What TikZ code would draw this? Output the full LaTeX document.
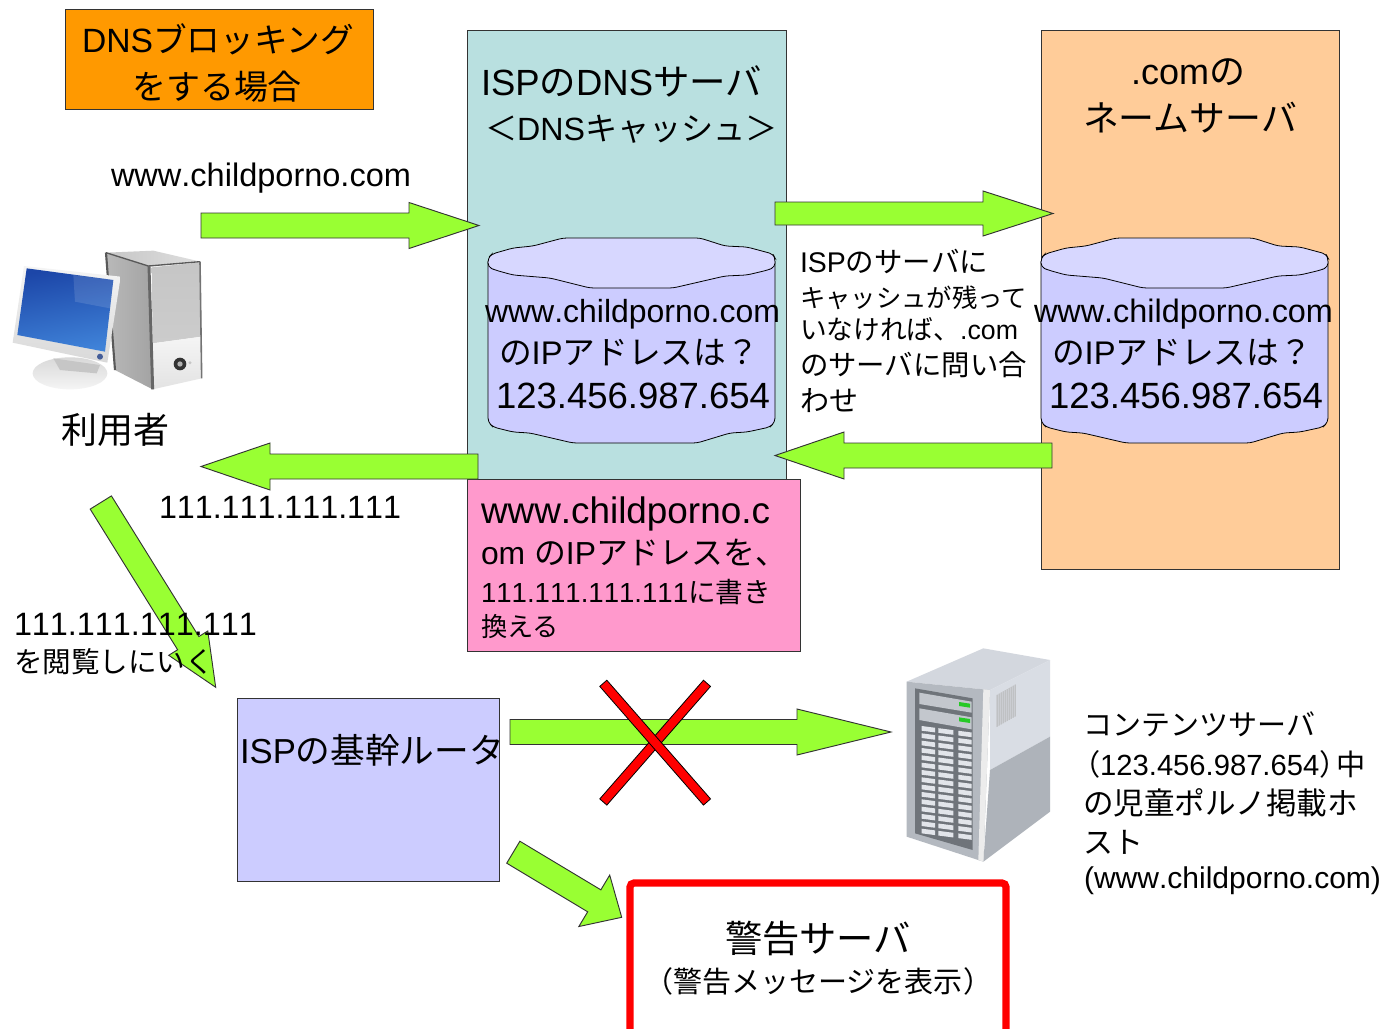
\documentclass[tikz,border=0pt]{standalone}
\usepackage{graphicx}
\usepackage{fontspec}
\setmainfont[Kerning=Off]{Liberation Sans}
\newfontfamily\cjk{Noto Sans CJK JP}
\usetikzlibrary{calc}
\definecolor{arrowgreen}{HTML}{99FF33}
\definecolor{boxorange}{HTML}{FF9900}
\definecolor{boxteal}{HTML}{B9E0E0}
\definecolor{boxpeach}{HTML}{FFCC99}
\definecolor{boxpink}{HTML}{FF99CC}
\definecolor{boxlav}{HTML}{CCCCFF}
\definecolor{toplav}{HTML}{D7D7FF}
\definecolor{edge}{HTML}{333333}
\definecolor{warnred}{HTML}{FF0000}
\definecolor{srvtop}{HTML}{D3D7DE}
\definecolor{srvside}{HTML}{D9DDE4}
\definecolor{srvlow}{HTML}{AEB3BA}
\definecolor{srvfront}{HTML}{B4B9C0}
\definecolor{srvrack}{HTML}{6F747A}
\definecolor{srvcell}{HTML}{E2E5EA}
\definecolor{scrA}{HTML}{1C46A8}
\definecolor{scrB}{HTML}{3F82D8}
\newcommand{\Jp}[1]{{\cjk #1}}
% text line: name, x, baseline y, width in px, content
\newcommand{\tline}[5]{\node[lbl] (#1) at (#2,#3) {\resizebox{#4\pxu}{!}{#5}};}
\newlength{\pxu}\setlength{\pxu}{0.75pt}
\newcommand{\boxn}[6]{%
  \pgfmathsetlengthmacro{\bw}{(#4-#2)*0.75pt}\pgfmathsetlengthmacro{\bh}{(#5-#3)*0.75pt}%
  \node[panel,fill=#6,minimum width=\bw,minimum height=\bh] (#1) at (#2,#3) {};}
% block arrow from coordinate a to tip b: shaft half, head length, head half (px)
\newcommand{\barrow}[5]{%
  \coordinate (neck) at ($(#2)!#4*0.75pt!(#1)$);
  \draw[blockarrow]
    ($(#1)!#3*0.75pt!90:(#2)$) -- ($(neck)!#3*0.75pt!90:(#2)$) -- ($(neck)!#5*0.75pt!90:(#2)$) -- (#2)
    -- ($(neck)!#5*0.75pt!-90:(#2)$) -- ($(neck)!#3*0.75pt!-90:(#2)$) -- ($(#1)!#3*0.75pt!-90:(#2)$) -- cycle;}
\newcommand{\xbar}[2]{%
  \draw[crossbar]
    ($(#1)!4.7*0.75pt!90:(#2)$) -- ($(#2)!4.7*0.75pt!-90:(#1)$) -- ($(#2)!4.7*0.75pt!90:(#1)$) -- ($(#1)!4.7*0.75pt!-90:(#2)$) -- cycle;}
\newcommand{\cyl}[1]{%
  \begin{scope}[shift={(#1,0)}]
    \draw[cylline,fill=boxlav,rounded corners=3pt] (488,258) -- (488,422) -- (493,427) -- (513,432) -- (530,433) -- (573,443) -- (697,443) -- (730,433) -- (747,432) -- (770,427) -- (775,422) -- (775,258) -- cycle;
    \draw[cylline,fill=toplav,rounded corners=3pt] (488,267) -- (488,258) -- (492,254) -- (513,248) -- (533,246) -- (563,238) -- (700,238) -- (725,246) -- (747,247) -- (773,254) -- (775,258) -- (775,267) -- (768,270) -- (747,275) -- (725,276) -- (673,288) -- (590,288) -- (550,278) -- (513,275) -- (495,270) -- cycle;
  \end{scope}}
\tikzset{
  lbl/.style={anchor=base west,inner sep=0pt,outer sep=0pt,text=black},
  panel/.style={draw=edge,line width=0.6pt,anchor=north west,inner sep=0pt,outer sep=0pt},
  blockarrow/.style={draw=edge,line width=0.7pt,fill=arrowgreen,line join=miter},
  crossbar/.style={draw=black,line width=0.6pt,fill=warnred},
  cylline/.style={draw=black,line width=0.6pt},
  warnframe/.style={draw=warnred,line width=5.4pt,fill=white,rounded corners=3pt},
}
\begin{document}
\begin{tikzpicture}[x=0.75pt,y=-0.75pt]
\useasboundingbox (0,0) rectangle (1381,1028);
\fill[white] (0,0) rectangle (1381,1028);
% panels
\boxn{title}{65}{9}{373}{109}{boxorange}
\boxn{ispdns}{467}{30}{786}{480}{boxteal}
\boxn{comns}{1041}{30}{1339}{569}{boxpeach}
\boxn{rewrite}{467}{479}{800}{651}{boxpink}
\boxn{router}{237}{698}{499}{881}{boxlav}
\draw[warnframe] (630,1036) -- (630,883) -- (1006,883) -- (1006,1036);
\cyl{0}
\cyl{553}
% user PC
\begin{scope}[shift={(0,230)},x=0.25pt,y=-0.25pt]
  \shade[top color=gray!30,bottom color=gray!8] (210,430) ellipse (112 and 48);
  \fill[gray!45] (160,385) -- (300,405) -- (290,430) -- (180,420) -- cycle;
  \shade[left color=gray!55,right color=gray!72] (318,68) -- (445,108) -- (458,478) -- (345,420) -- cycle;
  \shade[left color=gray!45,right color=gray!25] (318,68) -- (460,62) -- (602,95) -- (450,110) -- cycle;
  \shade[top color=gray!45,middle color=gray!10,bottom color=gray!40] (455,112) -- (600,97) -- (605,320) -- (458,340) -- cycle;
  \shade[top color=gray!8,bottom color=gray!22] (458,340) -- (605,320) -- (605,445) -- (458,478) -- cycle;
  \draw[gray!70!black,line width=1pt] (318,68) -- (445,108) -- (600,95);
  \draw[black!65,line width=1.6pt] (318,68) -- (345,420);
  \draw[black!60,line width=2.2pt] (447,108) -- (458,478);
  \draw[black!55,line width=1.2pt] (600,95) -- (605,445);
  \fill[black!80] (540,402) circle (19);
  \fill[gray!60] (540,402) circle (8);
  \fill[gray!45] (570,398) circle (5);
  \shade[top color=gray!8,bottom color=gray!30] (72,108) -- (362,140) -- (322,398) -- (38,338) -- cycle;
  \shade[left color=scrA,right color=scrB,shading angle=10] (80,115) -- (340,150) -- (315,365) -- (52,315) -- cycle;
  \fill[white,opacity=.12] (220,135) -- (340,150) -- (330,235) -- (225,215) -- cycle;
  \fill[scrA!60!gray] (300,380) circle (9);
\end{scope}
% content server
\begin{scope}[shift={(890,640)},x=0.25pt,y=-0.25pt]
  \fill[srvtop] (50,125) -- (280,25) -- (480,60) -- (300,150) -- cycle;
  \fill[srvside] (300,150) -- (480,60) -- (480,290) -- (300,390) -- cycle;
  \fill[srvlow] (300,390) -- (480,290) -- (480,515) -- (280,665) -- cycle;
  \fill[srvfront] (50,125) -- (300,150) -- (280,665) -- (50,590) -- cycle;
  \fill[gray!15] (280,148) -- (300,150) -- (280,665) -- (265,660) -- cycle;
  \fill[srvrack] (75,145) -- (248,175) -- (248,630) -- (75,580) -- cycle;
  \fill[srvfront!80!white] (88,158) -- (245,185) -- (245,218) -- (88,192) -- cycle;
  \fill[srvfront!80!white] (88,205) -- (245,232) -- (245,268) -- (88,240) -- cycle;
  \fill[green!75!black!85] (207,186) -- (240,191) -- (240,203) -- (207,198) -- cycle;
  \fill[green!75!black!85] (207,232) -- (240,237) -- (240,249) -- (207,244) -- cycle;
  \foreach \r in {0,...,14}{
    \foreach \cx/\cw in {95/40,145/45,205/40}{
      \pgfmathsetmacro{\cy}{258+\r*22+(\cx-95)*0.13}
      \fill[srvcell] (\cx,\cy) -- ++(\cw,{\cw*0.13}) -- ++(0,14) -- ++(-\cw,{-\cw*0.13}) -- cycle;
    }
  }
  \foreach \r in {0,...,9}{
    \fill[gray!60] ({320+\r*6},{165-\r*3.4}) -- ++(3,-1.5) -- ++(0,96) -- ++(-3,1.5) -- cycle;
  }
\end{scope}
% arrow end points
\coordinate (a1s) at (201,225.5); \coordinate (a1e) at (479,225.5);
\coordinate (a2s) at (775,213.5); \coordinate (a2e) at (1053,213.5);
\coordinate (a3s) at (1052,455.5); \coordinate (a3e) at (775,455.5);
\coordinate (a4s) at (478,466.5); \coordinate (a4e) at (201,466.5);
\coordinate (a5s) at (100.8,502.5); \coordinate (a5e) at (215.7,687.3);
\coordinate (a6s) at (510,732); \coordinate (a6e) at (891,732);
\coordinate (a7s) at (513.3,852.2); \coordinate (a7e) at (621.7,917.3);
\barrow{a1s}{a1e}{12.5}{70}{23}
\barrow{a2s}{a2e}{11.5}{70}{22.5}
\barrow{a3s}{a3e}{12.5}{69}{23.5}
\barrow{a4s}{a4e}{12.5}{69}{23.5}
\barrow{a5s}{a5e}{12.5}{52}{23}
\barrow{a6s}{a6e}{12.5}{94}{23}
\barrow{a7s}{a7e}{12.8}{32}{30}
\coordinate (x1a) at (603.3,683.3); \coordinate (x1b) at (707,802);
\coordinate (x2a) at (707,683.3); \coordinate (x2b) at (603.3,802);
\xbar{x2a}{x2b}
\xbar{x1a}{x1b}
% texts
\tline{t1}{82}{52}{272}{DNS\Jp{ブロッキング}}
\tline{t2}{132}{99}{170}{\Jp{をする場合}}
\tline{t3}{111}{186}{300}{www.childporno.com}
\tline{t4}{481}{95}{281}{ISP\Jp{の}DNS\Jp{サーバ}}
\tline{t5}{485}{140}{293}{\Jp{＜}DNS\Jp{キャッシュ＞}}
\tline{t6}{1131}{84}{114}{.com\Jp{の}}
\tline{t7}{1083}{131}{214}{\Jp{ネームサーバ}}
\tline{c1a}{485}{322}{295}{www.childporno.com}
\tline{c1b}{499}{364}{260}{\Jp{の}IP\Jp{アドレスは？}}
\tline{c1c}{496}{408}{274}{123.456.987.654}
\tline{c2a}{1034}{322}{299}{www.childporno.com}
\tline{c2b}{1052}{364}{260}{\Jp{の}IP\Jp{アドレスは？}}
\tline{c2c}{1049}{408}{274}{123.456.987.654}
\tline{m1}{800}{272}{188}{ISP\Jp{のサーバに}}
\tline{m2}{800}{307}{227}{\Jp{キャッシュが残って}}
\tline{m3}{800}{339}{218}{\Jp{いなければ、}.com}
\tline{m4}{800}{375}{227}{\Jp{のサーバに問い合}}
\tline{m5}{800}{411}{58}{\Jp{わせ}}
\tline{u1}{61}{443}{108}{\Jp{利用者}}
\tline{n1}{159}{518}{242}{111.111.111.111}
\tline{p1}{481}{523}{289}{www.childporno.c}
\tline{p2}{481}{564}{306}{om \Jp{の}IP\Jp{アドレスを、}}
\tline{p3}{481}{602}{290}{111.111.111.111\Jp{に書き}}
\tline{p4}{481}{636}{78}{\Jp{換える}}
\tline{v1}{14}{635}{243}{111.111.111.111}
\tline{v2}{14}{672}{200}{\Jp{を閲覧しにいく}}
\tline{r1}{240}{763}{264}{ISP\Jp{の基幹ルータ}}
\tline{s1}{1083}{735}{232}{\Jp{コンテンツサーバ}}
\tline{s2}{1071}{775}{295}{\Jp{（}123.456.987.654\Jp{）}\hspace{-.4em}\Jp{中}}
\tline{s3}{1083}{814}{275}{\Jp{の児童ポルノ掲載ホ}}
\tline{s4}{1083}{853}{60}{\Jp{スト}}
\tline{s5}{1084}{888}{297}{(www.childporno.com)}
\tline{w1}{725}{952}{186}{\Jp{警告サーバ}}
\tline{w2}{644}{992}{348}{\Jp{（警告メッセージを表示）}}
\end{tikzpicture}
\end{document}
